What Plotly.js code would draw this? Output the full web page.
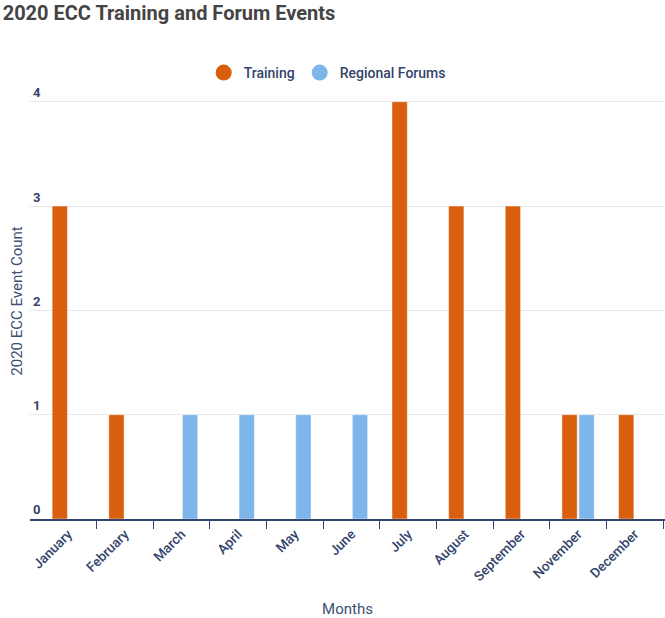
<!DOCTYPE html>
<html><head><meta charset="utf-8">
<script src="https://cdn.plot.ly/plotly-3.0.1.min.js"></script>
<style>html,body{margin:0;padding:0;background:#fff}</style>
</head><body>
<div id="chart" style="width:665px;height:618px"></div>
<script>
const months = ["January","February","March","April","May","June","July","August","September","November","December"];
const training = [3,1,0,0,0,0,4,3,3,1,1];
const forums = [0,0,1,1,1,1,0,0,0,1,0];
const seriesNames = ["Training","Regional Forums"];
const seriesColors = ["#D95F0E","#7EB5EA"];
const yTicks = [0,1,2,3,4];

const navy = "#34446a";
const traces = [
  {type:"bar", name:seriesNames[0], x:months, y:training, marker:{color:seriesColors[0], line:{color:"rgba(255,255,255,0.45)", width:1}}, showlegend:false},
  {type:"bar", name:seriesNames[1], x:months, y:forums, marker:{color:seriesColors[1], line:{color:"rgba(255,255,255,0.45)", width:1}}, showlegend:false},
  {type:"scatter", mode:"markers", name:seriesNames[0], x:[null], y:[null], marker:{symbol:"circle", size:18, color:seriesColors[0]}},
  {type:"scatter", mode:"markers", name:seriesNames[1], x:[null], y:[null], marker:{symbol:"circle", size:18, color:seriesColors[1]}}
];
const layout = {
  width:665, height:618,
  margin:{l:30, r:0, t:83, b:99, autoexpand:false},
  paper_bgcolor:"#fff", plot_bgcolor:"#fff",
  font:{family:"Roboto, sans-serif", color:navy},
  title:{text:"<b>2020 ECC Training and Forum Events</b>", x:0.004, xanchor:"left", xref:"container", y:0.979, yanchor:"middle", yref:"container", font:{size:20, color:"#444", family:"Roboto, sans-serif"}},
  barmode:"group", bargap:0.4, bargroupgap:0.1,
  legend:{orientation:"h", x:0.492, xanchor:"center", xref:"container", y:1-73/618, yanchor:"middle", yref:"container", font:{size:14, color:navy, weight:500}, itemwidth:30},
  xaxis:{type:"category", categoryarray:months, range:[-0.676,10.535], showline:true, linecolor:navy, linewidth:2, ticks:"outside", tickson:"boundaries", ticklen:8, tickcolor:navy, tickwidth:1, tickangle:-45, tickfont:{size:13.5, color:navy, weight:500}, showgrid:false, automargin:false,
    title:{text:"Months", font:{size:15, color:"#3d4f73"}, standoff:22}},
  yaxis:{range:[0,4.18], tickvals:yTicks, ticktext:yTicks.map(String), ticklabelposition:"inside top", tickfont:{size:13, color:navy, weight:"bold"}, gridcolor:"#e8e8e8", gridwidth:1, zeroline:false, showline:false, automargin:false,
    title:{text:"2020 ECC Event Count", font:{size:15, color:"#3d4f73"}, standoff:6}}
};
Plotly.newPlot("chart", traces, layout, {displayModeBar:false});
</script>
</body></html>
